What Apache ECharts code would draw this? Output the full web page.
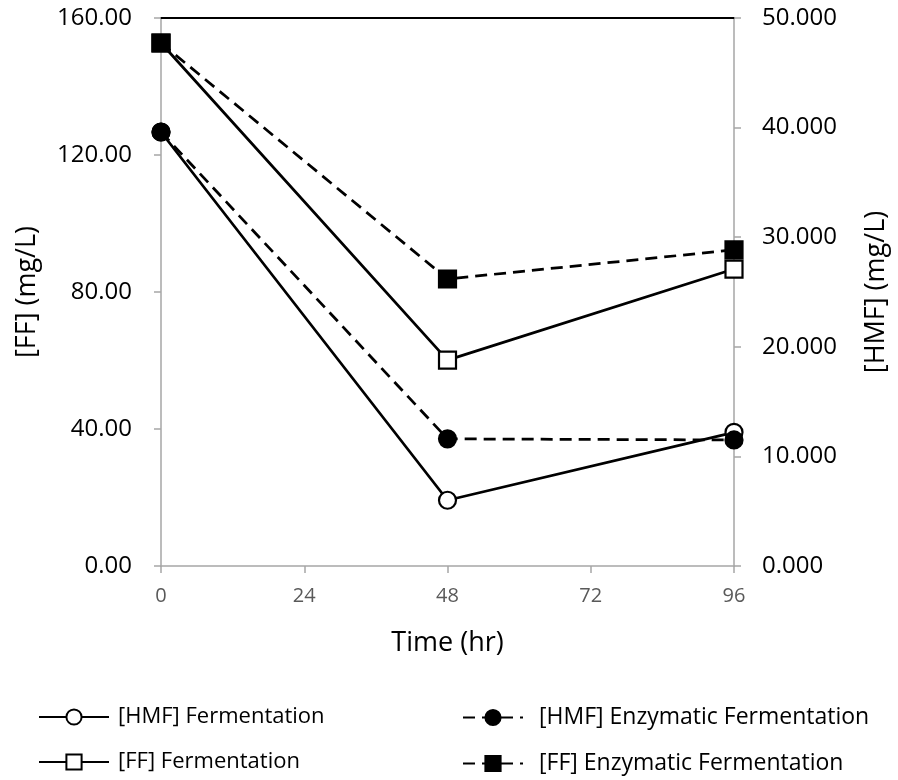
<!DOCTYPE html>
<html><head><meta charset="utf-8">
<script src="https://cdn.jsdelivr.net/npm/echarts@6/dist/echarts.min.js"></script>
<style>html,body{margin:0;padding:0;background:#fff}#c{width:898px;height:780px}</style>
</head><body><div id="c"></div>
<script>
const times = [0, 48, 96];
const hmfFerm = [39.6, 6.0, 12.2];
const hmfEnz = [39.6, 11.6, 11.5];
const ffFerm = [152.7, 60.1, 86.7];
const ffEnz = [152.7, 83.8, 92.3];
const xTicks = [0, 24, 48, 72, 96];
const names = ['[HMF] Fermentation', '[HMF] Enzymatic Fermentation', '[FF] Fermentation', '[FF] Enzymatic Fermentation'];

const pair = (ys) => times.map((t, i) => [t, ys[i]]);
const font = '"Open Sans", "Liberation Sans", sans-serif';
const chart = echarts.init(document.getElementById('c'), null, {renderer: 'canvas'});

function ser(name, data, yIdx, symbol, filled, dashed) {
  return {
    name, type: 'line', data, yAxisIndex: yIdx, symbol, symbolSize: 17,
    lineStyle: {color: '#000', width: 2.75, type: dashed ? [12, 7] : 'solid'},
    itemStyle: {color: filled ? '#000' : '#fff', borderColor: '#000', borderWidth: 2.2},
    emphasis: {disabled: true}, z: filled ? 4 : 3
  };
}

const axisGray = '#a6a6a6';
chart.setOption({
  animation: false,
  grid: {left: 161, right: 156, top: 18, bottom: 214, containLabel: false},
  xAxis: [{
    type: 'value', min: 0, max: 96, interval: 24,
    name: 'Time (hr)', nameLocation: 'middle', nameGap: 64,
    nameTextStyle: {fontFamily: font, fontSize: 27, color: '#000'},
    axisLine: {lineStyle: {color: axisGray, width: 1.5}},
    axisTick: {show: true, length: 7, lineStyle: {color: axisGray, width: 1.5}},
    axisLabel: {fontFamily: font, fontSize: 20, color: '#595959', margin: 20},
    splitLine: {show: false}
  }, {
    type: 'value', min: 0, max: 96, position: 'top',
    axisLine: {show: true, onZero: false, lineStyle: {color: '#000', width: 2}},
    axisTick: {show: false}, axisLabel: {show: false}, splitLine: {show: false}
  }],
  yAxis: [{
    type: 'value', min: 0, max: 160, interval: 40,
    name: '[FF] (mg/L)', nameLocation: 'middle', nameGap: 120, nameRotate: 90,
    nameTextStyle: {fontFamily: font, fontSize: 27, color: '#000'},
    axisLine: {show: true, onZero: false, lineStyle: {color: axisGray, width: 1.5}},
    axisTick: {show: true, length: 7, lineStyle: {color: axisGray, width: 1.5}},
    axisLabel: {fontFamily: font, fontSize: 24, color: '#000', margin: 29, formatter: v => v.toFixed(2)},
    splitLine: {show: false}
  }, {
    type: 'value', min: 0, max: 50, interval: 10, position: 'right',
    name: '[HMF] (mg/L)', nameLocation: 'middle', nameGap: 129, nameRotate: 90,
    nameTextStyle: {fontFamily: font, fontSize: 27, color: '#000'},
    axisLine: {show: true, onZero: false, lineStyle: {color: axisGray, width: 1.5}},
    axisTick: {show: true, length: 7, lineStyle: {color: axisGray, width: 1.5}},
    axisLabel: {fontFamily: font, fontSize: 24, color: '#000', margin: 28, formatter: v => v.toFixed(3)},
    splitLine: {show: false}
  }],
  legend: [{
    data: [names[0], names[2]], orient: 'vertical', left: 38, top: 706, itemGap: 23,
    itemWidth: 70, itemHeight: 19, padding: 0,
    textStyle: {fontFamily: font, fontSize: 22, lineHeight: 22, color: '#000', padding: [0, 0, 0, 4]}
  }, {
    data: [names[1], names[3]], orient: 'vertical', left: 462, top: 706, itemGap: 23,
    itemWidth: 60, itemHeight: 19, padding: 0,
    textStyle: {fontFamily: font, fontSize: 23, lineHeight: 22, color: '#000', padding: [0, 0, 0, 11]}
  }],
  series: [
    ser(names[0], pair(hmfFerm), 1, 'circle', false, false),
    ser(names[1], pair(hmfEnz), 1, 'circle', true, true),
    ser(names[2], pair(ffFerm), 0, 'rect', false, false),
    ser(names[3], pair(ffEnz), 0, 'rect', true, true)
  ]
});
</script></body></html>
